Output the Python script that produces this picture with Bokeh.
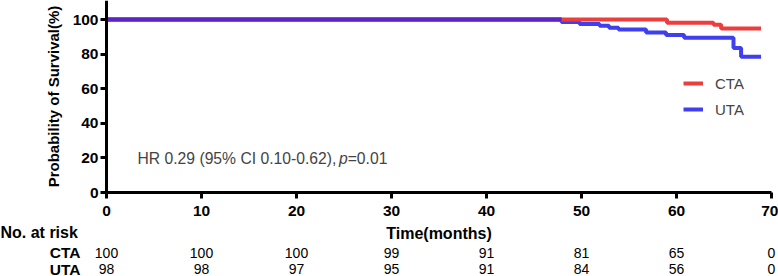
from bokeh.plotting import figure
from bokeh.models import (Range1d, FixedTicker, Label, ColumnDataSource,
                          Legend, LegendItem)
from bokeh.core.properties import value
from bokeh.embed import file_html
from bokeh.resources import INLINE

# ---------------- data ----------------
cta_time = [0, 59.0, 63.9, 64.7, 68.9]
cta_surv = [100, 98.1, 96.9, 94.8, 94.8]
uta_time = [0, 47.9, 49.8, 51.9, 52.9, 53.9, 56.8, 58.9, 60.8, 66.0, 66.8, 68.9]
uta_surv = [100, 98.5, 97.4, 96.4, 95.2, 94.2, 92.5, 91.0, 89.5, 83.5, 78.5, 78.5]

risk_times = [0, 10, 20, 30, 40, 50, 60, 70]
cta_risk = [100, 100, 100, 99, 91, 81, 65, 0]
uta_risk = [98, 98, 97, 95, 91, 84, 56, 0]

x_ticks = [0, 10, 20, 30, 40, 50, 60, 70]
y_ticks = [0, 20, 40, 60, 80, 100]

RED = "#EE3D3D"
BLUE = "#3F3FF0"
PURPLE = "#5B24C6"
FONT = "Liberation Sans"

# ---------------- layout geometry (pixels) ----------------
W, H = 778, 276
AX_LEFT, AX_RIGHT = 106, 771      # x = 0 and x = 70
AX_TOP100, AX_BOTTOM = 19, 192    # y = 100 and y = 0
X0, X1 = 0, 70
Y0, Y1 = 0, 100
PX_X = (AX_RIGHT - AX_LEFT) / (X1 - X0)
PX_Y = (AX_BOTTOM - AX_TOP100) / (Y1 - Y0)

def dx(px):   # page x pixel -> data x
    return X0 + (px - AX_LEFT) / PX_X

def dy(py):   # page y pixel -> data y
    return Y0 + (AX_BOTTOM - py) / PX_Y

p = figure(width=W, height=H, x_range=Range1d(dx(0), dx(W)), y_range=Range1d(dy(H), dy(0)),
           output_backend="svg", toolbar_location=None,
           min_border_left=0, min_border_right=0, min_border_top=0, min_border_bottom=0)
p.outline_line_color = None
p.xgrid.visible = False
p.ygrid.visible = False

r_uta = p.step(uta_time, uta_surv, mode="after", line_color=BLUE, line_width=4)
r_cta = p.step(cta_time, cta_surv, mode="after", line_color=RED, line_width=4)

# overlapping part of both curves (both still at the starting value)
def first_drop(t, s):
    for ti, si in zip(t, s):
        if si < s[0]:
            return ti
    return t[-1]
t_split = min(first_drop(cta_time, cta_surv), first_drop(uta_time, uta_surv))
p.line([cta_time[0], t_split], [cta_surv[0], cta_surv[0]], line_color=PURPLE, line_width=4)

# axes, pinned at x = 0 / y = 0
xa, ya = p.xaxis[0], p.yaxis[0]
xa.fixed_location = Y0
ya.fixed_location = X0
xa.bounds = (X0, X1)
ya.bounds = (Y0, dy(0))
for ax in (xa, ya):
    ax.axis_line_width = 3
    ax.axis_line_color = "black"
    ax.major_tick_line_width = 3
    ax.major_tick_line_color = "black"
    ax.major_tick_out = 6
    ax.major_tick_in = 0
    ax.minor_tick_line_color = None
    ax.major_label_text_font = FONT
    ax.major_label_text_font_style = "bold"
    ax.major_label_text_font_size = "15.5px"
    ax.major_label_text_color = "black"
    ax.axis_label_text_font = FONT
    ax.axis_label_text_font_style = "bold"
    ax.axis_label_text_color = "black"

xa.axis_label_text_font_size = "16px"
ya.axis_label_text_font_size = "15px"
xa.ticker = FixedTicker(ticks=x_ticks)
ya.ticker = FixedTicker(ticks=y_ticks)
xa.axis_label = "Time(months)"
ya.axis_label = "Probability of Survival(%)"
xa.major_label_standoff = 7
xa.axis_label_standoff = 6
ya.major_label_standoff = 2
ya.axis_label_standoff = 8

# legend
legend = Legend(items=[LegendItem(label="CTA", renderers=[r_cta]),
                       LegendItem(label="UTA", renderers=[r_uta])],
                location=(683, H - 119), glyph_width=20, glyph_height=20, label_height=20,
                spacing=6, padding=0, margin=0, label_standoff=12,
                border_line_color=None, background_fill_alpha=0,
                label_text_font=FONT, label_text_font_size="15px",
                label_text_baseline="middle")
p.add_layout(legend)

# HR annotation
hr_main = "HR 0.29 (95% CI 0.10-0.62), "
p_val = "=0.01"
hx, hy = dx(137), dy(158)
p.add_layout(Label(x=hx, y=hy, text=hr_main, text_font=FONT, text_font_size="15.7px",
                   text_baseline="middle"))
p.add_layout(Label(x=hx, y=hy, x_offset=201.5, text="p", text_font=FONT,
                   text_font_size="15.7px", text_font_style="italic", text_baseline="middle"))
p.add_layout(Label(x=hx, y=hy, x_offset=210.2, text=p_val, text_font=FONT,
                   text_font_size="15.7px", text_baseline="middle"))

# ---------------- number at risk table ----------------
p.text(x=[dx(0)], y=[dy(232)], text=["No. at risk"], text_font=value(FONT),
       text_font_size="16px", text_font_style="bold", text_align="left",
       text_baseline="middle", text_color="black")

for name, vals, row_py in (("CTA", cta_risk, 252), ("UTA", uta_risk, 268.5)):
    p.text(x=[dx(80)], y=[dy(row_py)], text=[name], text_font=value(FONT),
           text_font_size="15.5px", text_font_style="bold", text_align="right",
           text_baseline="middle", text_color="black")
    src = ColumnDataSource(dict(x=risk_times, y=[dy(row_py)] * len(risk_times),
                                text=[str(v) for v in vals]))
    p.text(x="x", y="y", text="text", source=src, text_font=value(FONT),
           text_font_size="14px", text_align="center", text_baseline="middle",
           text_color="black")

open("out.html", "w").write(file_html(p, INLINE))
